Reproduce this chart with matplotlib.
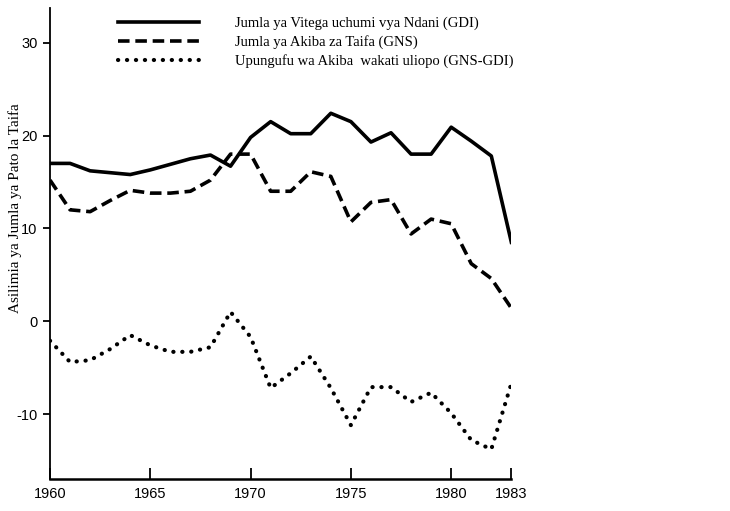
import numpy as np
import matplotlib
matplotlib.use('Agg')
import matplotlib.pyplot as plt

years = list(range(1960, 1984))

gdi = [17.0, 17.0, 16.2, 16.0, 15.8, 16.3, 16.9, 17.5, 17.9, 16.7, 19.8, 21.5,
       20.2, 20.2, 22.4, 21.5, 19.3, 20.3, 18.0, 18.0, 20.9, 19.4, 17.8, 8.5]
gns = [15.2, 12.0, 11.8, 13.0, 14.1, 13.8, 13.8, 14.0, 15.2, 18.0, 18.0, 14.0,
       14.0, 16.1, 15.6, 10.7, 12.8, 13.1, 9.4, 11.0, 10.5, 6.2, 4.6, 1.4]
gap = [-2.1, -4.4, -4.2, -3.0, -1.5, -2.6, -3.3, -3.3, -2.8, 1.0, -1.7, -7.2,
       -5.6, -3.8, -7.2, -11.2, -7.1, -7.1, -8.7, -7.7, -9.9, -12.8, -13.8, -6.7]

labels = ['Jumla ya Vitega uchumi vya Ndani (GDI)',
          'Jumla ya Akiba za Taifa (GNS)',
          'Upungufu wa Akiba  wakati uliopo (GNS-GDI)']

xticks = [1960, 1965, 1970, 1975, 1980, 1983]
yticks = [30, 20, 10, 0, -10]

serif = ['Liberation Serif', 'DejaVu Serif']
sans = ['Liberation Sans Narrow', 'Liberation Sans', 'DejaVu Sans']

fig = plt.figure(figsize=(7.3, 5.11), dpi=100)
ax = fig.add_axes([0.0685, 0.0626, 0.632, 0.921])

ax.plot(years, gdi, color='black', lw=2.6, solid_joinstyle='round', label=labels[0])
ax.plot(years, gns, color='black', lw=2.6, linestyle=(0, (3.2, 1.6)), label=labels[1])
ax.plot(years, gap, color='black', lw=3.0, linestyle=(0, (0.05, 2.1)),
        dash_capstyle='round', label=labels[2])

ax.set_xlim(1960, 1983)
ax.set_ylim(-17, 33.7)
ax.spines['top'].set_visible(False)
ax.spines['right'].set_visible(False)
ax.spines['left'].set_linewidth(1.3)
ax.spines['bottom'].set_linewidth(1.8)

ax.set_xticks(xticks)
ax.set_xticklabels([str(t) for t in xticks], family=sans, fontsize=10.5)
ax.set_yticks(yticks)
ax.set_yticklabels([str(t) for t in yticks], family=sans, fontsize=10.5)
ax.tick_params(axis='x', direction='in', length=8, width=1.3, pad=6)
ax.tick_params(axis='y', direction='out', length=5, width=1.3, pad=4)

ax.set_ylabel('Asilimia ya Jumla ya Pato la Taifa', family=serif, fontsize=11)
ax.yaxis.set_label_coords(-0.061, 0.575)

leg = ax.legend(loc='upper left', bbox_to_anchor=(0.12, 1.01), frameon=False,
                prop={'family': serif, 'size': 10.5}, handlelength=5.5,
                handletextpad=2.5, labelspacing=0.35)

fig.savefig('out.png', dpi=100)
